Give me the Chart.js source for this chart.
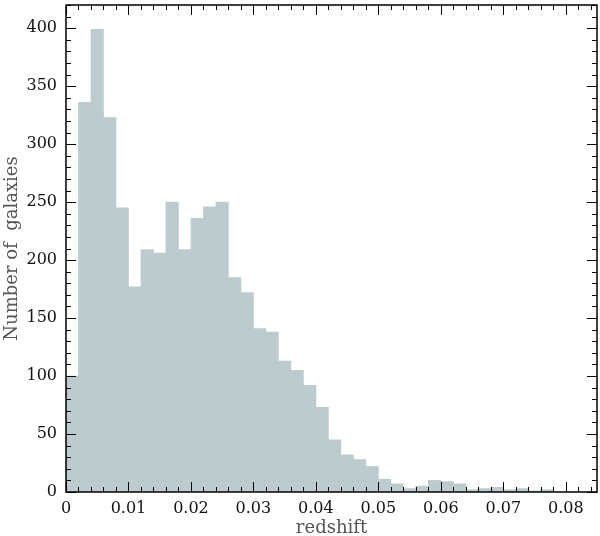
<!DOCTYPE html>
<html>
<head>
<meta charset="utf-8">
<script src="https://cdn.jsdelivr.net/npm/chart.js@4/dist/chart.umd.min.js"></script>
<style>
    html, body { margin: 0; padding: 0; background: #fff; }
    #wrap { width: 600px; height: 536px; }
</style>
</head>
<body>
<div id="wrap"><canvas id="hist"></canvas></div>
<script>
// redshift bin centres (bins are 0.002 wide)
const binCentres = [
    0.001, 0.003, 0.005, 0.007, 0.009, 0.011, 0.013, 0.015, 0.017, 0.019,
    0.021, 0.023, 0.025, 0.027, 0.029, 0.031, 0.033, 0.035, 0.037, 0.039,
    0.041, 0.043, 0.045, 0.047, 0.049, 0.051, 0.053, 0.055, 0.057, 0.059,
    0.061, 0.063, 0.065, 0.067, 0.069, 0.071, 0.073, 0.075, 0.077, 0.079,
    0.081, 0.083
];
const galaxyCounts = [
    100, 336, 399, 323, 245, 177, 209, 206, 250, 209,
    236, 246, 250, 185, 172, 141, 138, 113, 105, 92,
    73, 45, 32, 28, 22, 11, 7, 3, 5, 10,
    9, 7, 2, 3, 4, 2, 3, 1, 2, 0,
    0, 0
];
const xTickValues = [0, 0.01, 0.02, 0.03, 0.04, 0.05, 0.06, 0.07, 0.08];
const xTickLabels = ['0', '0.01', '0.02', '0.03', '0.04', '0.05', '0.06', '0.07', '0.08'];
const yTickValues = [0, 50, 100, 150, 200, 250, 300, 350, 400];
const yTickLabels = ['0', '50', '100', '150', '200', '250', '300', '350', '400'];

const fontFamily = "'DejaVu Serif', 'Liberation Serif', serif";

// frame with inward major/minor ticks on all four sides
const framePlugin = {
    id: 'frame',
    afterDraw(chart) {
        const { ctx, chartArea: { left, right, top, bottom }, scales: { x, y } } = chart;
        ctx.save();
        ctx.strokeStyle = '#000';
        ctx.lineWidth = 1;
        ctx.beginPath();
        for (let i = 0; i <= 42; i++) {
            const px = Math.round(x.getPixelForValue(i * 0.002)) + 0.5;
            const len = (i % 5 === 0) ? 10 : 5;
            ctx.moveTo(px, bottom); ctx.lineTo(px, bottom - len);
            ctx.moveTo(px, top); ctx.lineTo(px, top + len);
        }
        for (let v = 0; v <= 420; v += 10) {
            const py = Math.round(y.getPixelForValue(v)) + 0.5;
            const len = (v % 50 === 0) ? 10 : 5;
            ctx.moveTo(left, py); ctx.lineTo(left + len, py);
            ctx.moveTo(right, py); ctx.lineTo(right - len, py);
        }
        ctx.stroke();
        ctx.lineWidth = 1.5;
        ctx.strokeRect(left, top, right - left, bottom - top);
        ctx.restore();
    }
};

new Chart(document.getElementById('hist'), {
    type: 'bar',
    data: {
        datasets: [{
            data: binCentres.map((c, i) => ({ x: c, y: galaxyCounts[i] })),
            backgroundColor: '#bccbcd',
            borderWidth: 0,
            barPercentage: 1,
            categoryPercentage: 1
        }]
    },
    options: {
        responsive: true,
        maintainAspectRatio: false,
        animation: false,
        layout: { padding: { left: 0, right: 3, top: 5, bottom: 0 } },
        plugins: { legend: { display: false }, tooltip: { enabled: false } },
        scales: {
            x: {
                type: 'linear',
                offset: false,
                min: 0,
                max: 0.085,
                afterBuildTicks: s => { s.ticks = xTickValues.map(v => ({ value: v })); },
                afterFit: s => { s.height = 44; s.paddingLeft = 0; s.paddingRight = 0; },
                ticks: {
                    padding: 7,
                    color: '#111',
                    font: { family: fontFamily, size: 16 },
                    maxRotation: 0,
                    callback: (v) => xTickLabels[xTickValues.indexOf(Number(v.toFixed(3)))]
                },
                grid: { display: false, drawTicks: false },
                border: { display: false },
                title: {
                    display: true,
                    text: 'redshift',
                    color: '#555',
                    font: { family: fontFamily, size: 18 },
                    padding: { top: -3, bottom: -3 }
                }
            },
            y: {
                min: 0,
                max: 420,
                afterBuildTicks: s => { s.ticks = yTickValues.map(v => ({ value: v })); },
                afterFit: s => { s.width = 66; s.paddingTop = 0; s.paddingBottom = 0; },
                ticks: {
                    padding: 9,
                    color: '#111',
                    font: { family: fontFamily, size: 16 },
                    callback: (v) => yTickLabels[yTickValues.indexOf(v)]
                },
                grid: { display: false, drawTicks: false },
                border: { display: false },
                title: {
                    display: true,
                    text: 'Number of  galaxies',
                    color: '#555',
                    font: { family: fontFamily, size: 18 },
                    padding: { top: 2, bottom: 0 }
                }
            }
        }
    },
    plugins: [framePlugin]
});
</script>
</body>
</html>
